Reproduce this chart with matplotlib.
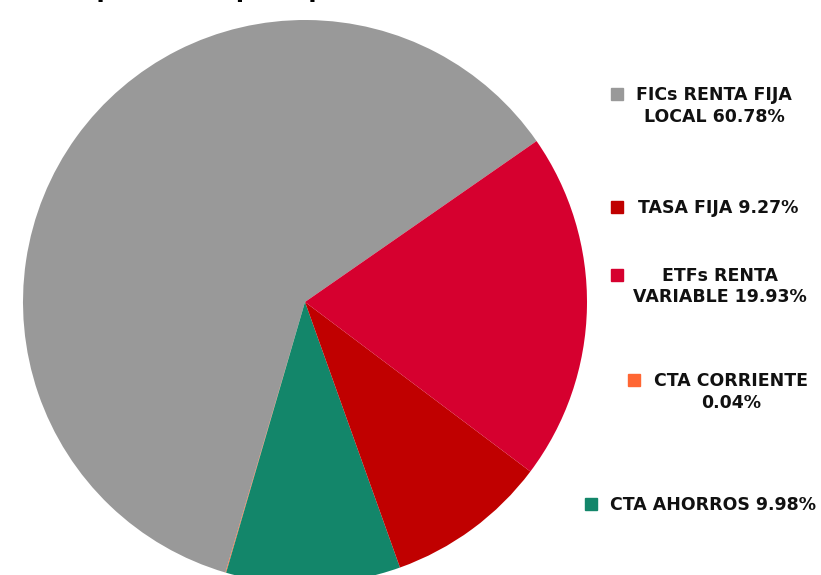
import matplotlib.pyplot as plt
from matplotlib.patches import Rectangle

# Datos de la composición del portafolio
etiquetas = ['FICs RENTA FIJA\nLOCAL 60.78%', 'TASA FIJA 9.27%', 'ETFs RENTA\nVARIABLE 19.93%',
             'CTA CORRIENTE\n0.04%', 'CTA AHORROS 9.98%']
valores = [60.78, 9.27, 19.93, 0.04, 9.98]
colores = ['#999999', '#C00000', '#D6002F', '#FF6633', '#13866A']

# Orden de las porciones en el pastel (antihorario desde arriba a la derecha)
orden_pie = [0, 3, 4, 1, 2]

plt.rcParams['font.family'] = ['DejaVu Sans']

W, H = 821, 575
fig = plt.figure(figsize=(W / 100, H / 100), dpi=100)
ax = fig.add_axes([0, 0, 1, 1])

ax.pie([valores[i] for i in orden_pie], colors=[colores[i] for i in orden_pie],
       startangle=34.8, counterclock=True, center=(305, H - 302), radius=282,
       wedgeprops=dict(linewidth=0))
ax.set_xlim(0, W)
ax.set_ylim(0, H)
ax.set_aspect('auto')
ax.axis('off')

# Título (cortado en la parte superior): se alinea la "p" de portafolio con x=97 px
r = fig.canvas.get_renderer()
tmp = fig.text(0, 0, 'Composición del ', fontsize=17, fontweight='bold')
ancho = tmp.get_window_extent(r).width
tmp.remove()
fig.text((97 - ancho) / W, 1 + 3 / H, 'Composición del portafolio por tipo de activo', ha='left', va='baseline',
         fontsize=17, fontweight='bold', color='black')

# Leyenda manual
leyenda = [  # (x cuadro, y cuadro, x centro texto)
    (617, 94, 714),
    (617, 207, 718),
    (617, 275, 720),
    (634, 380, 731),
    (591, 504, 713),
]
for i, (xc, yc, xt) in enumerate(leyenda):
    fig.patches.append(Rectangle(((xc - 6) / W, 1 - (yc + 6) / H), 12 / W, 12 / H,
                                 transform=fig.transFigure, color=colores[i], figure=fig))
    fig.text(xt / W, 1 - (yc - 8) / H, etiquetas[i], ha='center', va='top', multialignment='center',
             fontsize=12.5, fontweight='bold', color='#111111', linespacing=1.25)

fig.savefig('out.png', dpi=100)
